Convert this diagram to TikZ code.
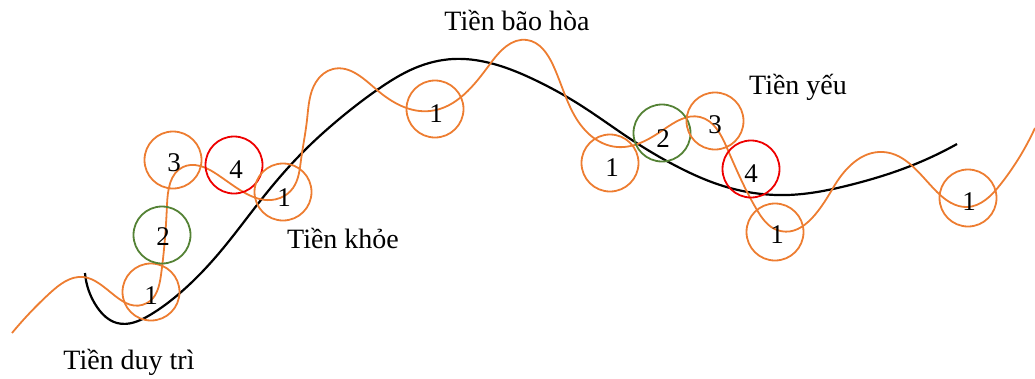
\documentclass[tikz,border=0pt]{standalone}
\usepackage{fontspec}
\setmainfont{Liberation Serif}
\usetikzlibrary{hobby}
\definecolor{orng}{HTML}{ED7D31}
\definecolor{grn}{HTML}{548235}
\definecolor{rd}{HTML}{EE0000}
\begin{document}
\begin{tikzpicture}[x=1pt,y=-1pt,
  ring/.style={circle,draw=#1,line width=1.8pt,minimum size=57pt,inner sep=0pt},
  num/.style={font=\fontsize{27}{29}\selectfont,inner sep=0pt},
  lbl/.style={font=\fontsize{28}{30}\selectfont,inner sep=0pt}]
\useasboundingbox (0,0) rectangle (1035,378);
% black trend curve
\draw[line width=2.2pt,black,use Hobby shortcut] (85,273) .. (97,307) .. (117,323) .. (150,315) .. (180,293) .. (220,252) .. (257,205) .. (300,155) .. (338,120) .. (377,90) .. (415,68) .. (453,59) .. (490,63) .. (535,80) .. (577,103) .. (635,142) .. (680,168) .. (720,185) .. (787,195) .. (850,185) .. (913,165) .. (957,144);
% orange price curve
\draw[line width=1.8pt,orng,use Hobby shortcut] (12,333) .. (50,293) .. (83,277) .. (147,303) .. (161,275) .. (167,205) .. (183,167) .. (215,173) .. (280,198) .. (293,188) .. (301,160) .. (307,120) .. (316,82) .. (333,69) .. (377,90) .. (430,111) .. (490,64) .. (527,40) .. (553,65) .. (590,135) .. (617,147) .. (663,130) .. (700,117) .. (727,148) .. (757,210) .. (777,230) .. (833,188) .. (883,152) .. (937,192) .. (967,207) .. (1000,185) .. (1035,128);
% circles
\node[ring=orng] (c1a) at (151,292) {};
\node[ring=grn]  (c2a) at (162,235) {};
\node[ring=orng] (c3a) at (173,160) {};
\node[ring=rd]   (c4a) at (234,165) {};
\node[ring=orng] (c1b) at (283,192) {};
\node[ring=orng] (c1c) at (435,109) {};
\node[ring=orng] (c1d) at (610,163) {};
\node[ring=grn]  (c2b) at (662,133) {};
\node[ring=orng] (c3b) at (715,121) {};
\node[ring=rd]   (c4b) at (751,169) {};
\node[ring=orng] (c1e) at (775,232) {};
\node[ring=orng] (c1f) at (968,198) {};
% numbers
\node[num] (n1a) at (151,296) {1};
\node[num] (n2a) at (163,237) {2};
\node[num] (n3a) at (174,163) {3};
\node[num] (n4a) at (236,170) {4};
\node[num] (n1b) at (284,198) {1};
\node[num] (n1c) at (436,114) {1};
\node[num] (n1d) at (612,168) {1};
\node[num] (n2b) at (663,139) {2};
\node[num] (n3b) at (715,125) {3};
\node[num] (n4b) at (751,174) {4};
\node[num] (n1e) at (777,235) {1};
\node[num] (n1f) at (969,202) {1};
% labels
\node[lbl] (t1) at (129,362) {Tiền duy trì};
\node[lbl] (t2) at (343,238) {Tiền khỏe};
\node[lbl] (t3) at (517,20) {Tiền bão hòa};
\node[lbl] (t4) at (798,87) {Tiền yếu};
\end{tikzpicture}
\end{document}
